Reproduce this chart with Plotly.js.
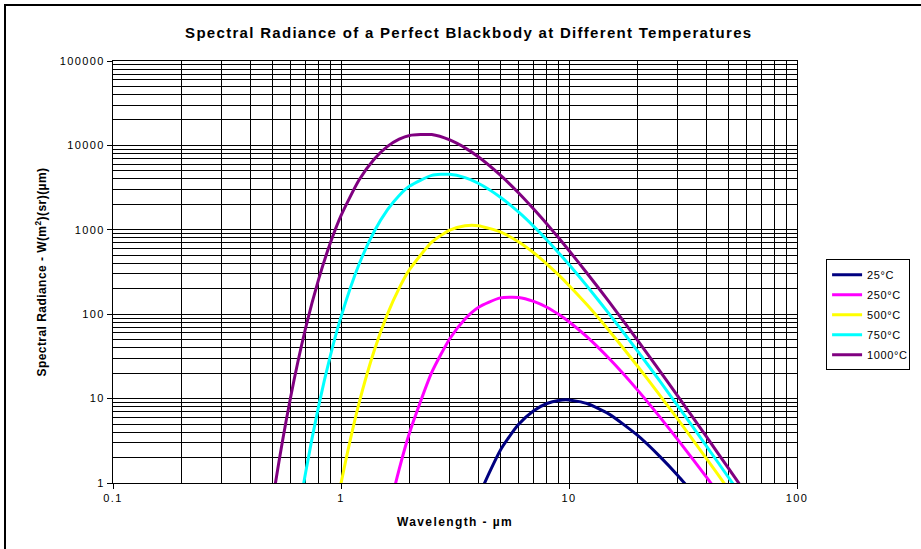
<!DOCTYPE html>
<html>
<head>
<meta charset="utf-8">
<script src="https://cdn.plot.ly/plotly-3.0.1.min.js"></script>
<style>
  html, body { margin: 0; padding: 0; background: #fff; }
  #chart { position: absolute; left: 0; top: 0; width: 921px; height: 549px; }
  #frame { position: absolute; left: 4px; top: 4px; width: 930px; height: 560px;
           border-left: 2px solid #000; border-top: 2px solid #000; pointer-events: none; }
  #chart .gtitle { letter-spacing: 1.3px; }
  #chart .xtick text, #chart .ytick text { letter-spacing: 1.4px; }
  #chart .xtitle { letter-spacing: 1.4px; }
  #chart .ytitle { letter-spacing: 0.45px; }
  #chart .legendtext { letter-spacing: 0.6px; }
</style>
</head>
<body>
<div id="chart"></div>
<div id="frame"></div>
<script>
// Wavelengths (µm) and spectral radiance readings, W/(m²·sr·µm)
const wl25   = [3, 3.5, 4, 5, 6, 7, 8, 9, 10, 12, 15, 20, 25, 30, 40];
const rad25  = [0.0506, 0.233, 0.670, 2.45, 4.92, 7.19, 8.75, 9.51, 9.63, 8.74, 6.55, 3.66, 2.07, 1.23, 0.497];

const wl250  = [1.4, 1.6, 1.8, 2.0, 2.5, 3, 3.5, 4, 5, 6, 7, 8, 9, 10, 12, 15, 20, 25, 30, 40, 50];
const rad250 = [0.0651, 0.389, 1.46, 3.97, 20.4, 51.2, 87.7, 120, 156, 158, 142, 121, 99.7, 81.3, 53.8, 29.8, 12.6, 6.08, 3.27, 1.18, 0.520];

const wl500  = [0.8, 0.9, 1.0, 1.2, 1.4, 1.6, 1.8, 2.0, 2.5, 3, 3.5, 4, 5, 6, 7, 8, 9, 10, 12, 15, 20, 25, 30, 40, 50, 60];
const rad500 = [0.0287, 0.211, 0.986, 8.81, 37.4, 101, 204, 339, 714, 994, 1118, 1120, 945, 721, 534, 393, 292, 219, 129, 63.8, 24.2, 11.0, 5.70, 1.96, 0.845, 0.421];

const wl750  = [0.5, 0.6, 0.7, 0.8, 0.9, 1.0, 1.2, 1.4, 1.6, 1.8, 2.0, 2.5, 3, 3.5, 4, 5, 6, 7, 8, 9, 10, 12, 15, 20, 25, 30, 40, 50, 60, 70];
const rad750 = [0.00233, 0.102, 1.34, 8.44, 33.0, 93.0, 390, 961, 1731, 2552, 3293, 4415, 4556, 4154, 3564, 2435, 1626, 1098, 757, 535, 387, 215, 101, 36.5, 16.2, 8.20, 2.76, 1.17, 0.580, 0.319];

const wl1000  = [0.4, 0.5, 0.6, 0.7, 0.8, 0.9, 1.0, 1.2, 1.4, 1.6, 1.8, 2.0, 2.5, 3, 3.5, 4, 5, 6, 7, 8, 9, 10, 12, 15, 20, 25, 30, 40, 50, 60, 70];
const rad1000 = [0.00626, 0.583, 10.1, 69.1, 266, 710, 1472, 3891, 6915, 9733, 11855, 13133, 13421, 11600, 9351, 7331, 4439, 2746, 1761, 1170, 804, 568, 306, 140, 49.0, 21.3, 10.7, 3.56, 1.50, 0.739, 0.405];

const seriesNames  = ["25°C", "250°C", "500°C", "750°C", "1000°C"];
const seriesColors = ["#000080", "#FF00FF", "#FFFF00", "#00FFFF", "#800080"];
const seriesX = [wl25, wl250, wl500, wl750, wl1000];
const seriesY = [rad25, rad250, rad500, rad750, rad1000];

const xTickVals = [0.1, 1, 10, 100];
const xTickText = ["0.1", "1", "10", "100"];
const yTickVals = [1, 10, 100, 1000, 10000, 100000];
const yTickText = ["1", "10", "100", "1000", "10000", "100000"];

const FONT = "Liberation Sans, Arial, sans-serif";

const traces = seriesNames.map((n, i) => ({
  type: "scatter",
  mode: "lines",
  name: n,
  legendgroup: "g" + i,
  x: seriesX[i],
  y: seriesY[i],
  line: { color: seriesColors[i], width: 3, shape: "spline", smoothing: 0.6 }
}));

const axisCommon = {
  type: "log",
  showline: true,
  mirror: true,
  linecolor: "#000",
  linewidth: 1,
  showgrid: true,
  gridcolor: "#000",
  gridwidth: 1,
  ticks: "outside",
  ticklen: 5,
  tickcolor: "#000",
  tickfont: { family: FONT, size: 11, color: "#000" },
  zeroline: false,
  minor: { showgrid: true, gridcolor: "#000", gridwidth: 1, dtick: "D1", ticks: "" }
};

const layout = {
  width: 921,
  height: 549,
  paper_bgcolor: "#fff",
  plot_bgcolor: "#fff",
  margin: { l: 113, r: 123, t: 61, b: 66 },
  font: { family: FONT, color: "#000" },
  title: {
    text: "<b>Spectral Radiance of a Perfect Blackbody at Different Temperatures</b>",
    font: { family: FONT, size: 15, color: "#000" },
    x: 0.509, xanchor: "center",
    y: 0.94, yanchor: "middle"
  },
  xaxis: Object.assign({}, axisCommon, {
    range: [-1, 2],
    tickvals: xTickVals,
    ticktext: xTickText,
    title: { text: "<b>Wavelength - µm</b>", font: { family: FONT, size: 12, color: "#000" }, standoff: 14 }
  }),
  yaxis: Object.assign({}, axisCommon, {
    range: [0, 5],
    tickvals: yTickVals,
    ticktext: yTickText,
    title: { text: "<b>Spectral Radiance - W(m<sup>2</sup>)(sr)(µm)</b>", font: { family: FONT, size: 12, color: "#000" }, standoff: 18 }
  }),
  legend: {
    x: 1.041, xanchor: "left",
    y: 0.53, yanchor: "top",
    bgcolor: "#fff",
    bordercolor: "#000",
    borderwidth: 1,
    font: { family: FONT, size: 11, color: "#000" },
    tracegroupgap: 1,
    itemwidth: 30
  },
  showlegend: true
};

Plotly.newPlot("chart", traces, layout, { displayModeBar: false, staticPlot: true });
</script>
</body>
</html>
